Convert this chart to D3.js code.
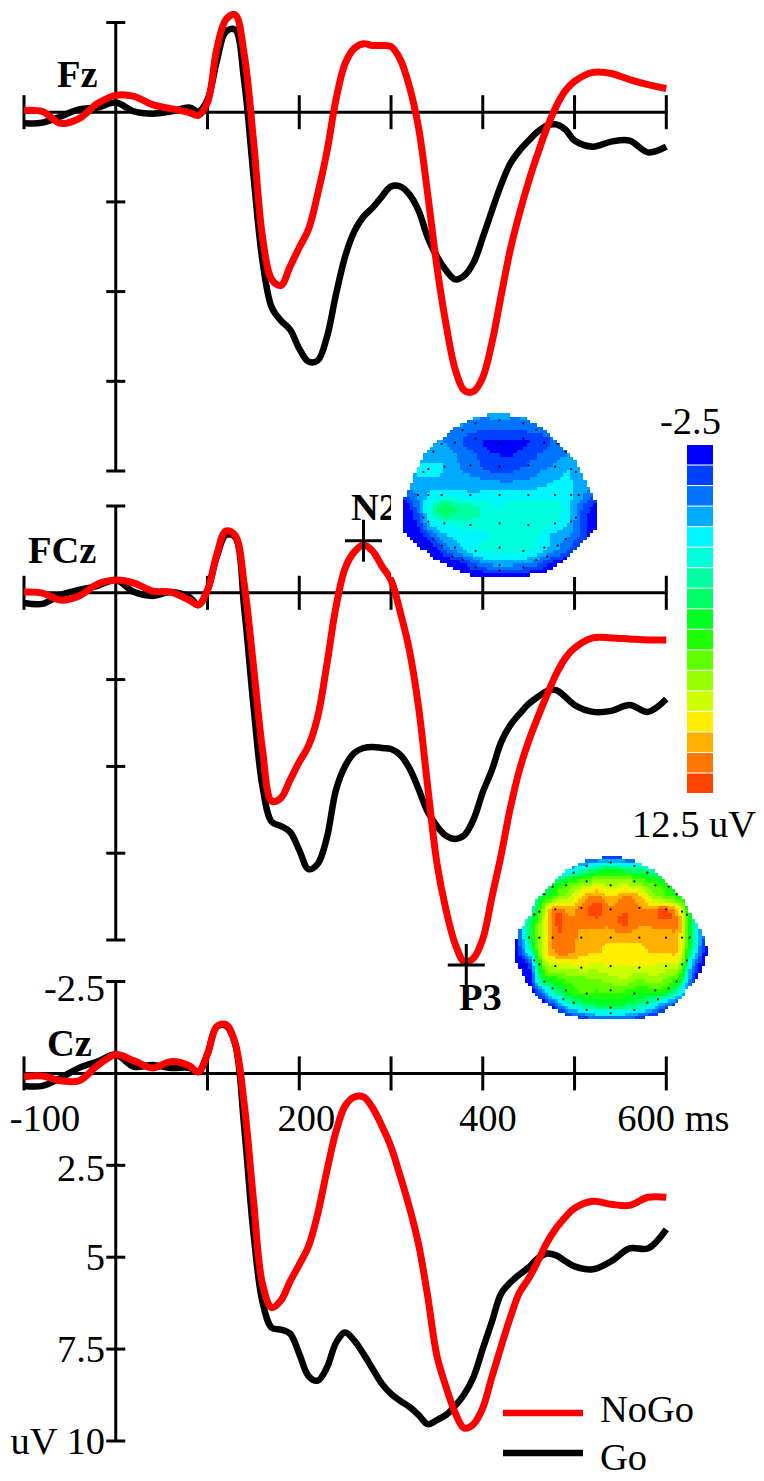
<!DOCTYPE html>
<html><head><meta charset="utf-8">
<script src="https://cdn.jsdelivr.net/npm/d3@7"></script>
<style>html,body{margin:0;padding:0;background:#fff}svg{display:block}
text{font-family:"Liberation Serif","Times New Roman",serif;font-size:38.5px;fill:#000}
.b{font-weight:bold}</style></head><body>
<svg id="c" width="764" height="1481"></svg>
<script>
// time points (ms)
const times=[-100,-80,-60,-40,-20,0,20,40,60,80,90,100,110,120,130,140,150,160,170,180,190,200,210,220,230,240,250,260,270,280,290,300,310,320,330,340,350,360,370,380,390,400,410,420,430,440,450,460,470,480,490,500,520,540,560,580,600];
// uV, negative up
const fzNoGo=[-0.05,-0.02,0.31,0.18,-0.24,-0.47,-0.44,-0.21,-0.10,0.01,0.09,-0.27,-1.75,-2.58,-2.72,-1.61,0.76,3.49,4.66,4.83,4.30,3.77,3.27,2.29,1.12,-0.35,-1.36,-1.78,-1.91,-1.86,-1.86,-1.83,-1.47,-0.72,0.43,2.29,4.30,5.92,7.17,7.76,7.78,7.39,6.42,5.11,3.83,2.82,1.93,1.15,0.43,-0.16,-0.60,-0.86,-1.11,-1.08,-0.91,-0.77,-0.66];
const fzGo=[0.31,0.29,0.12,-0.08,-0.13,-0.27,-0.02,0.04,-0.02,-0.13,-0.02,-0.35,-1.41,-2.25,-2.30,-0.86,1.74,4.16,5.44,5.81,6.06,6.59,6.95,6.92,6.28,5.08,4.02,3.32,2.91,2.66,2.35,2.07,2.07,2.29,2.74,3.49,4.02,4.41,4.66,4.55,4.19,3.49,2.74,2.02,1.43,1.07,0.79,0.54,0.37,0.34,0.48,0.79,0.96,0.82,0.79,1.12,0.96];
const fczNoGo=[-0.02,0.01,0.21,0.09,-0.25,-0.37,-0.28,-0.05,-0.02,0.21,0.35,-0.08,-1.09,-1.78,-1.66,-0.25,2.08,4.53,6.00,5.91,5.39,4.87,4.41,3.58,2.08,0.41,-0.71,-1.18,-1.38,-1.20,-0.77,-0.37,0.55,1.65,3.29,5.59,7.78,9.14,10.12,10.63,10.52,9.97,8.76,7.55,6.20,5.10,4.27,3.58,2.94,2.34,1.88,1.59,1.30,1.30,1.33,1.36,1.36];
const fczGo=[0.29,0.32,0.06,-0.08,-0.20,-0.37,-0.02,0.09,-0.02,0.12,0.35,-0.08,-1.03,-1.66,-1.61,0.44,3.23,5.59,6.60,6.72,6.89,7.41,7.96,7.81,7.06,5.68,4.99,4.61,4.47,4.44,4.47,4.50,4.67,5.05,5.65,6.31,6.72,7.00,7.09,6.98,6.52,5.74,5.10,4.30,3.81,3.49,3.20,3.00,2.83,2.80,3.00,3.23,3.43,3.40,3.23,3.43,3.06];
const czNoGo=[0.09,0.07,0.20,0.20,-0.21,-0.51,-0.34,-0.15,-0.32,-0.21,-0.04,-0.53,-1.27,-1.33,-0.84,0.83,3.42,5.74,6.37,6.18,5.66,5.20,4.71,3.83,2.66,1.59,0.88,0.64,0.64,0.94,1.43,2.00,2.79,3.64,4.65,6.07,7.68,8.53,9.24,9.65,9.54,9.10,8.25,7.43,6.64,5.96,5.58,5.11,4.60,4.21,3.91,3.67,3.48,3.56,3.59,3.37,3.37];
const czGo=[0.34,0.34,0.12,-0.15,-0.32,-0.51,-0.18,-0.23,-0.15,-0.15,-0.04,-0.53,-1.27,-1.30,-0.81,1.46,4.32,6.23,6.92,6.97,7.08,7.63,8.23,8.36,8.01,7.33,7.05,7.27,7.63,8.04,8.44,8.72,8.91,9.07,9.29,9.54,9.43,9.29,9.04,8.72,8.25,7.49,6.75,5.99,5.69,5.47,5.28,5.03,4.90,4.95,5.11,5.25,5.33,5.11,4.76,4.76,4.24];
const xTicks=[-100,0,100,200,300,400,500,600];
const xLabels=[[-100,"-100"],[200,"200"],[400,"400"]];
const yTicks=[-2.5,0,2.5,5,7.5,10];
// colour bar steps, top to bottom
const barColors=["#0000ff","#0040ff","#0074ff","#00aaff","#00f5ff","#00ffdc","#00ffa0","#00ff66","#00ff22","#1eff00","#60ff00","#99ff00","#ccff00","#ffee00","#ffb000","#ff7700","#ff4400"];
// topographies: colour step read at each grid node
const n2Map=[
[2,3.2,3.2,3.2,3.2,3.2,3.3,3.4,3.3,3.2,3.2,3.2,3.2,2,2],
[3,3,3,3,3,2.6,2.2,2.2,2.2,2.5,2.8,3,3,3,3],
[3.5,3.5,3.2,2.9,2.2,1.4,1.0,0.9,0.9,1.0,1.5,2.2,2.7,3.1,3],
[3.6,3.6,3.6,3.6,2.8,2.2,1.2,1.0,1.0,1.4,2.1,2.6,3,3.2,3.2],
[3.7,4.1,4.2,4.0,3.1,2.6,1.9,1.4,1.7,2.2,2.8,3.2,3.9,3.4,3.2],
[3.5,3.8,3.9,3.8,3.5,3.4,3.1,3.0,3.0,3.2,3.6,4.0,4.1,3.5,3.2],
[1.5,3.2,4.2,4.5,4.5,4.3,4.4,4.5,4.7,4.6,4.6,4.6,4.3,3.2,1.8],
[0,2.2,5.7,7.8,6.9,6.5,5.5,5.1,5.5,5.8,5.9,5.7,4.1,2,0.5],
[0,1,4.4,5.2,5.6,5.7,5.5,5.6,5.8,5.8,5.6,5.0,4.1,1.6,0.2],
[0,0,2,3.8,4.3,4.6,4.9,5.3,5.4,5.3,4.8,3.6,3,1.5,0],
[-0.5,-0.5,0,2,3.5,4.7,5.3,5.5,5.5,5.2,4.4,3.2,2,0.5,-0.5],
[-1,-1,-1,0,0.6,1.8,3,3.4,3.3,3,1.8,0.5,0,-1,-1],
[-1,-1,-1,-1,0,0,0,0,0,0,0,-1,-1,-1,-1]];
const p3Map=[
[0,0,0,0,0,0.5,1,1,1,0.5,0,0,0,0,0],
[1,1,1,2,4,6,7.5,8.3,7.5,7,6,4,2,1,1],
[2,2,4,8,10,11,12,11.5,12,11,10,9,6,3,2],
[2,3,8,10.5,12,14.4,15.3,14,15,14.4,12,10.5,9,5,2],
[2,5,11,15.8,14.5,15.7,16.5,15.2,16,15.2,15.2,16.2,13.5,6.5,2],
[1,7,12,16,15.5,15.2,15.3,15.2,16.2,15.2,15.2,15.5,14.5,7,1],
[0.5,7,12.5,15.5,15.5,14.5,14.5,14.2,14.4,14.2,14.2,14.2,14,7,1],
[0,5,12.5,15.2,15.3,14.3,14.1,13.4,13.7,13.7,14.1,14.1,13.5,6,0],
[0,1,10.5,12.5,12.8,13,12.6,13.1,13.1,13.1,13,12.6,12,3,0],
[0,0,8,9.5,10.5,10.8,11,11.5,12,11,11.5,11,9,1.5,0],
[0,0,3,6.5,9,10,9.8,10,9.7,9,9,8.5,5,0.5,0],
[0,0,0,1.5,5,6.5,7.5,7.5,7.5,6.5,5,2,0.5,0,0],
[0,0,0,0,0,1,2,2,2,1,0,0,0,0,0]];
const n2Outline=[[330,40],[260,50],[200,80],[150,120],[100,170],[75,225],[55,270],[40,305],[40,390],[65,420],[100,450],[140,480],[200,510],[260,530],[400,530],[470,515],[530,480],[575,430],[618,390],[618,305],[600,270],[580,225],[550,170],[500,120],[450,80],[400,50]];
const p3Outline=[[332,48],[260,60],[200,90],[150,135],[110,180],[85,235],[60,270],[45,315],[45,360],[75,420],[110,470],[150,500],[200,525],[260,540],[410,540],[470,525],[530,490],[570,440],[605,395],[622,340],[620,315],[600,265],[580,235],[550,180],[510,135],[460,90],[400,60]];
const sites=[[257,70],[329,60],[400,70],[218,90],[439,90],[155,132],[195,128],[257,116],[329,128],[400,116],[463,128],[503,132],[130,155],[527,155],[163,200],[241,196],[329,200],[415,196],[495,200],[115,207],[543,207],[100,216],[558,216],[84,285],[115,285],[155,285],[241,285],[329,285],[415,285],[495,285],[543,285],[566,285],[100,353],[558,353],[115,365],[543,365],[163,370],[241,375],[329,370],[415,375],[495,370],[130,417],[527,417],[155,437],[503,437],[195,443],[329,443],[463,443],[257,453],[400,453],[187,470],[471,470],[218,480],[439,480],[329,495],[257,502],[400,502],[329,512]];
const legendNames=["NoGo","Go"];
const n2Peak={t:270,v:-1.50}, p3Peak={t:382,v:10.72};

const svg=d3.select("#c");
const x=d3.scaleLinear().domain([-100,600]).range([24,666.3]);
const lineColor={NoGo:"#ff0000",Go:"#000000"};
const panels=[
 {name:"Fz",range:[22.5,471],no:fzNoGo,go:fzGo,lx:57,ly:87},
 {name:"FCz",range:[506,940],no:fczNoGo,go:fczGo,lx:28,ly:563},
 {name:"Cz",range:[981.5,1441],no:czNoGo,go:czGo,lx:47,ly:1056}];
const ink=(g)=>g.attr("stroke","#000").attr("stroke-width",3).attr("fill","none");

panels.forEach(p=>{
 p.y=d3.scaleLinear().domain([-2.5,10]).range(p.range);
 const g=svg.append("g");
 const y0=p.y(0);
 g.append("line").call(ink).attr("x1",x(-100)).attr("x2",x(600)).attr("y1",y0).attr("y2",y0);
 g.append("line").call(ink).attr("x1",x(0)).attr("x2",x(0)).attr("y1",p.y(-2.5)).attr("y2",p.y(10));
 g.selectAll(".xt").data(xTicks.filter(d=>d!==0)).join("line").call(ink)
  .attr("x1",d=>x(d)).attr("x2",d=>x(d)).attr("y1",y0-17).attr("y2",y0+17);
 g.selectAll(".yt").data(yTicks.filter(d=>d!==0)).join("line").call(ink)
  .attr("x1",x(0)-9.5).attr("x2",x(0)+9.5).attr("y1",d=>p.y(d)).attr("y2",d=>p.y(d));
 g.append("text").attr("class","b").attr("x",p.lx).attr("y",p.ly).text(p.name);
 const ln=d3.line().x((d,i)=>x(times[i])).y(d=>p.y(d)).curve(d3.curveCatmullRom.alpha(0.5));
 g.append("path").attr("d",ln(p.go)).attr("fill","none").attr("stroke",lineColor.Go).attr("stroke-width",6.5).attr("stroke-linejoin","round");
 g.append("path").attr("d",ln(p.no)).attr("fill","none").attr("stroke",lineColor.NoGo).attr("stroke-width",7).attr("stroke-linejoin","round");
});

// peak labels and crosses on FCz
const fcz=panels[1];
function cross(pk){
 const cx=x(pk.t),cy=fcz.y(pk.v);
 svg.append("line").call(ink).attr("x1",cx-18.5).attr("x2",cx+18.5).attr("y1",cy).attr("y2",cy);
 svg.append("line").call(ink).attr("x1",cx).attr("x2",cx).attr("y1",cy-21).attr("y2",cy+21);
}
svg.append("text").attr("class","b").attr("x",351).attr("y",520).text("N2");
cross(n2Peak);cross(p3Peak);
svg.append("text").attr("class","b").attr("x",459).attr("y",1010).text("P3");

// Cz labels
const cz=panels[2];
svg.selectAll(".xl").data(xLabels).join("text").attr("x",d=>x(d[0])+(d[0]===-100?21:d[0]===200?7:5)).attr("y",1131)
 .attr("text-anchor","middle").text(d=>d[1]);
svg.append("text").attr("x",x(600)-49).attr("y",1131).text("600 ms");
svg.selectAll(".yl").data([[-2.5,"-2.5",19],[2.5,"2.5",16],[5,"5",13],[7.5,"7.5",13],[10,"uV 10",13]]).join("text")
 .attr("x",105).attr("y",d=>cz.y(d[0])+d[2]).attr("text-anchor","end").text(d=>d[1]);

// legend
legendNames.forEach((n,i)=>{
 const ly=[1413,1453][i];
 svg.append("line").attr("x1",503).attr("x2",583).attr("y1",ly).attr("y2",ly).attr("stroke",lineColor[n]).attr("stroke-width",6.5);
 svg.append("text").attr("x",600).attr("y",[1422,1470][i]).text(n);
});

// colour bar
const band=d3.scaleBand().domain(d3.range(barColors.length)).range([445,793]).paddingInner(0.05);
svg.selectAll(".bar").data(barColors).join("rect").attr("x",687).attr("width",26)
 .attr("y",(d,i)=>band(i)).attr("height",band.bandwidth()).attr("fill",d=>d);
svg.append("text").attr("x",660).attr("y",434).text("-2.5");
svg.append("text").attr("x",632).attr("y",837).text("12.5 uV");

// topographic maps
const stepColor=d3.scaleQuantize().domain([0,barColors.length]).range(barColors);
const cubic=(a,b,c,d,t)=>b+0.5*t*(c-a+t*(2*a-5*b+4*c-d+t*(3*(b-c)+d-a)));
function sample(m,r,c){
 const R=m.length-1,C=m[0].length-1,r0=Math.floor(r),c0=Math.floor(c),fr=r-r0,fc=c-c0;
 const at=(i,j)=>m[Math.max(0,Math.min(R,i))][Math.max(0,Math.min(C,j))];
 const rowVal=i=>cubic(at(i,c0-1),at(i,c0),at(i,c0+1),at(i,c0+2),fc);
 return cubic(rowVal(r0-1),rowVal(r0),rowVal(r0+1),rowVal(r0+2),fr);
}
function topo(matrix,outline,ox,oy,dx,dy,hx0,hx1,hy0,hy1){
 const sx=d3.scaleLinear().domain([0,660]).range([ox,ox+220]);
 const sy=d3.scaleLinear().domain([0,570]).range([oy,oy+190]);
 const col=d3.scaleLinear().domain([hx0,hx1]).range([0,matrix[0].length-1]).clamp(true);
 const row=d3.scaleLinear().domain([hy0,hy1]).range([0,matrix.length-1]).clamp(true);
 const g=svg.append("g").attr("shape-rendering","crispEdges");
 const cells=[];
 const step=10;
 for(let hy=hy0;hy<=hy1;hy+=step)for(let hx=hx0;hx<=hx1;hx+=step){
  if(!d3.polygonContains(outline,[hx+step/2,hy+step/2]))continue;
  cells.push({hx,hy,v:sample(matrix,row(hy+step/2),col(hx+step/2))});
 }
 g.selectAll("rect").data(cells).join("rect")
  .attr("x",d=>Math.round(sx(d.hx))).attr("y",d=>Math.round(sy(d.hy)))
  .attr("width",d=>Math.round(sx(d.hx+step))-Math.round(sx(d.hx)))
  .attr("height",d=>Math.round(sy(d.hy+step))-Math.round(sy(d.hy)))
  .attr("fill",d=>stepColor(d.v));
 svg.append("g").selectAll("circle").data(sites).join("circle")
  .attr("cx",d=>sx(d[0]+dx)).attr("cy",d=>sy(d[1]+dy)).attr("r",1.1).attr("fill","#000");
}
// white backing of the N2 map hides the end of its label
svg.append("rect").attr("x",391).attr("y",405).attr("width",209).attr("height",172).attr("fill","#fff");
topo(n2Map,n2Outline,390,400,0,0,40,618,40,532);
topo(p3Map,p3Outline,500,840,3,8,45,620,48,540);
</script></body></html>
